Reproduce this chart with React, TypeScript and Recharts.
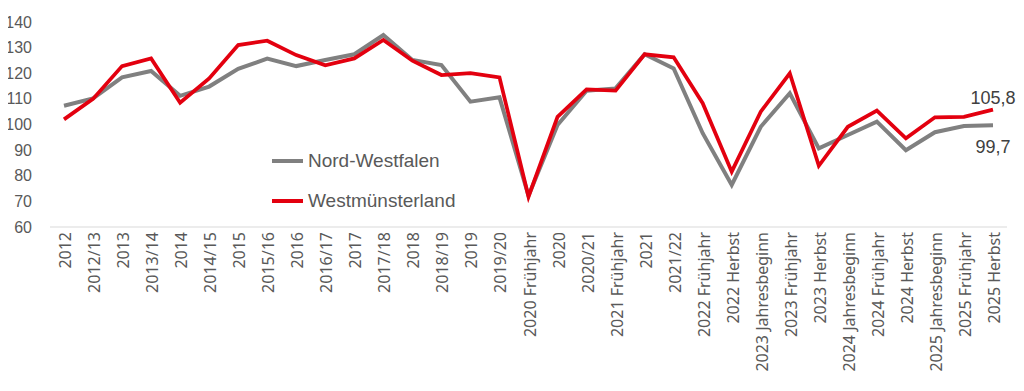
import React from "react";
import { LineChart, Line, XAxis, YAxis, LabelList } from "recharts";

const categories = [
  "2012", "2012/13", "2013", "2013/14", "2014", "2014/15", "2015", "2015/16",
  "2016", "2016/17", "2017", "2017/18", "2018", "2018/19", "2019", "2019/20",
  "2020 Frühjahr", "2020", "2020/21", "2021 Frühjahr", "2021", "2021/22",
  "2022 Frühjahr", "2022 Herbst", "2023 Jahresbeginn", "2023 Frühjahr",
  "2023 Herbst", "2024 Jahresbeginn", "2024 Frühjahr", "2024 Herbst",
  "2025 Jahresbeginn", "2025 Frühjahr", "2025 Herbst",
];

const nrwValues = [
  107.3, 110.2, 118.4, 120.9, 111.2, 114.8, 121.7, 125.7, 122.8, 125.2, 127.4,
  134.9, 125.2, 123.2, 108.9, 110.6, 72.2, 99.8, 113.2, 114.1, 127.4, 121.9,
  96.6, 76.4, 99.1, 112.2, 90.7, 95.9, 101.1, 90.0, 97.0, 99.4, 99.7,
];

const wmlValues = [
  102.0, 110.0, 122.8, 125.8, 108.5, 118.0, 131.0, 132.7, 127.1, 123.1, 125.8,
  133.0, 124.9, 119.3, 120.0, 118.4, 71.8, 103.0, 113.7, 113.2, 127.4, 126.2,
  108.3, 81.6, 105.0, 120.0, 83.9, 99.1, 105.4, 94.6, 102.8, 103.0, 105.8,
];

const yTicks = [60, 70, 80, 90, 100, 110, 120, 130, 140];

const seriesNames = ["Nord-Westfalen", "Westmünsterland"];
const seriesColors = ["#808080", "#e3000f"];

const data = categories.map((c, i) => ({
  cat: c,
  nrw: nrwValues[i],
  wml: wmlValues[i],
}));

const fmt = (v: number) => v.toFixed(1).replace(".", ",");

const XTick = (props: any) => {
  const { x, y, payload } = props;
  return (
    <text
      transform={`translate(${x + 1},${y - 3}) rotate(-90)`}
      textAnchor="end"
      dominantBaseline="central"
      fill="#595959"
      fontFamily="'Noto Sans', sans-serif"
      fontSize={16}
    >
      {payload.value}
    </text>
  );
};

const YTick = (props: any) => {
  const { y, payload } = props;
  return (
    <text
      x={32}
      y={y}
      textAnchor="end"
      dominantBaseline="central"
      fill="#595959"
      fontFamily="'Liberation Sans', Arial, sans-serif"
      fontSize={16}
    >
      {payload.value}
    </text>
  );
};

const LegendBox = () => (
  <div
    style={{
      position: "absolute",
      left: 272,
      top: 149,
      display: "flex",
      flexDirection: "column",
      gap: 16,
    }}
  >
    {seriesNames.map((n, i) => (
      <div key={n} style={{ display: "flex", alignItems: "center", height: 24 }}>
        <svg width={31} height={6} style={{ display: "block" }}>
          <line x1={0} y1={3} x2={31} y2={3} stroke={seriesColors[i]} strokeWidth={4} />
        </svg>
        <span
          style={{
            marginLeft: 5,
            fontFamily: "'Liberation Sans', Arial, sans-serif",
            fontSize: 19,
            color: "#595959",
            whiteSpace: "nowrap",
          }}
        >
          {n}
        </span>
      </div>
    ))}
  </div>
);

const makeLabel = (dy: number) => (props: any) => {
  const { x, y, value, index } = props;
  if (index !== data.length - 1) return null;
  return (
    <text
      x={x}
      y={y + dy}
      textAnchor="middle"
      dominantBaseline="central"
      fill="#404040"
      fontFamily="'Liberation Sans', Arial, sans-serif"
      fontSize={18}
    >
      {fmt(value)}
    </text>
  );
};

export default function App() {
  return (
    <div style={{ position: "relative", width: 1024, height: 391, margin: "-8px 0 0 -8px" }}>
      <LineChart
        width={1024}
        height={391}
        data={data}
        margin={{ top: 22, right: 17, bottom: 0, left: 0 }}
      >
        <XAxis
          dataKey="cat"
          interval={0}
          height={164}
          padding={{ left: 14, right: 14 }}
          tick={<XTick />}
          tickLine={false}
          axisLine={{ stroke: "#d9d9d9", strokeWidth: 1 }}
        />
        <YAxis
          domain={[60, 140]}
          ticks={yTicks}
          width={50}
          tick={<YTick />}
          tickLine={false}
          axisLine={false}
          interval={0}
        />
        <Line
          type="linear"
          dataKey="nrw"
          name={seriesNames[0]}
          stroke={seriesColors[0]}
          strokeWidth={4}
          dot={false}
          isAnimationActive={false}
        >
          <LabelList dataKey="nrw" content={makeLabel(22)} />
        </Line>
        <Line
          type="linear"
          dataKey="wml"
          name={seriesNames[1]}
          stroke={seriesColors[1]}
          strokeWidth={3.75}
          dot={false}
          isAnimationActive={false}
        >
          <LabelList dataKey="wml" content={makeLabel(-12)} />
        </Line>
      </LineChart>
      <LegendBox />
    </div>
  );
}
